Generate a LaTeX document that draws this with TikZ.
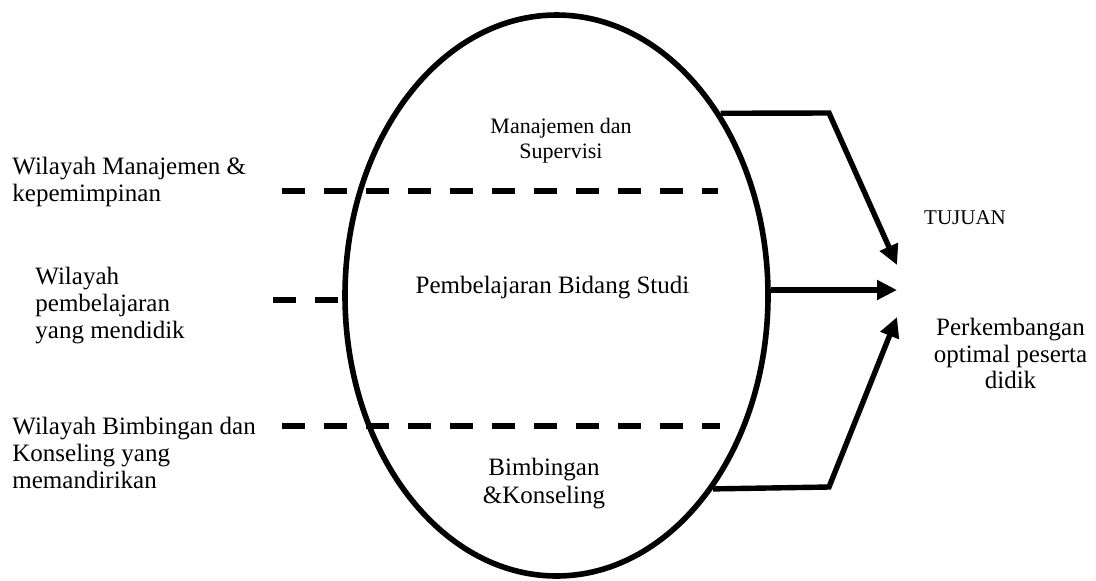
\documentclass[tikz,border=0pt]{standalone}
\usepackage{fontspec}
\setmainfont{Liberation Serif}
\usetikzlibrary{arrows.meta,shapes.geometric}

\begin{document}
\begin{tikzpicture}[
    x=.5pt,y=-.5pt,
    lbl/.style={align=left,anchor=west,inner sep=0pt,font=\fontsize{12.5}{13.5}\selectfont},
    mid/.style={align=center,inner sep=0pt,font=\fontsize{12.5}{14}\selectfont},
    sml/.style={align=center,inner sep=0pt,font=\fontsize{11}{12.5}\selectfont},
    bd/.style={line width=3.2pt,dash pattern=on 11.7pt off 9.3pt},
    ar/.style={-{Triangle[length=10pt,width=9.5pt]},line width=2.7pt,line join=miter}
  ]
    \useasboundingbox (0,0) rectangle (1096,580);
    \node[ellipse,draw,line width=2.8pt,minimum width=211.5pt,minimum height=280.5pt,inner sep=0pt] (ell) at (556.5,295.5) {};
    \node[sml] (ms) at (561,140.5) {Manajemen dan\\Supervisi};
    \node[mid] (pbs) at (552.5,288) {Pembelajaran Bidang Studi};
    \node[mid] (bk) at (544,484) {Bimbingan\\\&Konseling};
    \node[lbl] (wm) at (12,181.5) {Wilayah Manajemen \&\\kepemimpinan};
    \node[lbl] (wp) at (35,305.5) {Wilayah\\pembelajaran\\yang mendidik};
    \node[lbl] (wb) at (12,452.5) {Wilayah Bimbingan dan\\Konseling yang\\memandirikan};
    \node[inner sep=0pt,font=\fontsize{10.5}{12}\selectfont] (tj) at (965,218) {TUJUAN};
    \node[mid,font=\fontsize{12.5}{13.25}\selectfont] (po) at (1010.5,353.5) {Perkembangan\\optimal peserta\\didik};
    \coordinate (k1) at (829,113); \coordinate (k3) at (829,487);
    \coordinate (t1) at (897,265); \coordinate (t2) at (897,290); \coordinate (t3) at (897,317);
    \foreach \a/\b/\y in {282/718/191,273/340/300,282/720/426} {
      \coordinate (da) at (\a,\y); \coordinate (db) at (\b,\y);
      \draw[bd] (da)--(db);
    }
    \draw[ar] (ell.48.6)--(k1)--(t1);
    \draw[ar] (t2 -| ell.east)--(t2);
    \draw[ar] (ell.-51.1)--(k3)--(t3);
  \end{tikzpicture}
\end{document}
